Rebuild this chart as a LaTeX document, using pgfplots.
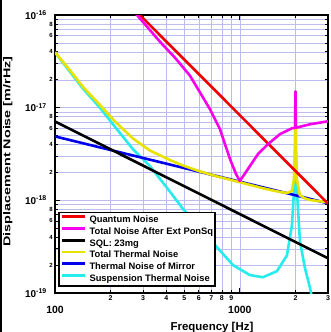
\documentclass[border=0pt]{standalone}
\usepackage{fontspec}
\setmainfont{Liberation Sans}
\usepackage{pgfplots}
\pgfplotsset{compat=1.18}
\definecolor{gridc}{RGB}{188,188,240}
\definecolor{cRed}{RGB}{240,0,0}
\definecolor{cMag}{RGB}{245,0,235}
\definecolor{cYel}{RGB}{232,226,0}
\definecolor{cBlu}{RGB}{0,0,235}
\definecolor{cCya}{RGB}{40,235,235}
\begin{document}
\begin{tikzpicture}
\useasboundingbox (-55bp,-39bp) rectangle (276bp,293bp);
\fill[black] (-55bp,-39bp) rectangle (-53bp,293bp);
\begin{axis}[
  at={(0,0)}, anchor=south west,
  scale only axis, width=273bp, height=278bp,
  xmode=log, ymode=log,
  xmin=100, xmax=3000, ymin=1e-19, ymax=1e-16,
  axis line style={line width=1.5bp},
  tick style={black, line width=0.8bp},
  major tick length=5bp, minor tick length=3bp,
  xtick={100,1000}, xticklabels={100,1000},
  minor xtick={200,300,400,500,600,700,800,900,2000,3000},
  ytick={1e-19,1e-18,1e-17,1e-16},
  yticklabels={10\textsuperscript{-19},10\textsuperscript{-18},10\textsuperscript{-17},10\textsuperscript{-16}},
  minor ytick={2e-19,3e-19,4e-19,5e-19,6e-19,7e-19,8e-19,9e-19,2e-18,3e-18,4e-18,5e-18,6e-18,7e-18,8e-18,9e-18,2e-17,3e-17,4e-17,5e-17,6e-17,7e-17,8e-17,9e-17},
  xticklabel style={font=\bfseries\fontsize{10.5}{12}\selectfont, inner sep=0pt, yshift=-13bp},
  yticklabel style={font=\bfseries\fontsize{10}{12}\selectfont, inner sep=0pt, xshift=-8bp},
  extra x ticks={200,300,400,500,600,700,800,900,2000,3000},
  extra x tick labels={2,3,4,5,6,7,8,9,2,3},
  extra x tick style={grid=none, major tick length=3bp,
     xticklabel style={font=\bfseries\fontsize{7}{8}\selectfont, yshift=11bp}},
  extra y ticks={2e-19,4e-19,6e-19,8e-19,2e-18,4e-18,6e-18,8e-18,2e-17,4e-17,6e-17,8e-17},
  extra y tick labels={2,4,6,8,2,4,6,8,2,4,6,8},
  extra y tick style={grid=none, major tick length=3bp,
     yticklabel style={font=\bfseries\fontsize{6}{7}\selectfont, xshift=6bp}},
  grid=both,
  major grid style={gridc, line width=0.5bp},
  minor grid style={gridc, line width=0.5bp},
  legend cell align=left,
  legend style={at={(rel axis cs:0.011,0.022)}, anchor=south west,
     draw=black, line width=1.6bp, fill=white, inner sep=1.5bp,
     row sep=0bp, column sep=2.8bp,
     font=\bfseries\fontsize{9.4}{11}\selectfont,
     nodes={inner sep=0.6bp, text height=8bp, text depth=2.6bp}},
  legend image code/.code={\draw[#1, line width=2.8bp] (0bp,3.2bp) -- (23bp,3.2bp);},
  every axis plot/.append style={line width=2.6bp, line join=round},
]
\addlegendimage{cRed}\addlegendentry{Quantum Noise}
\addlegendimage{cMag}\addlegendentry{Total Noise After Ext PonSq}
\addlegendimage{black}\addlegendentry{SQL: 23mg}
\addlegendimage{cYel}\addlegendentry{Total Thermal Noise}
\addlegendimage{cBlu}\addlegendentry{Thermal Noise of Mirror}
\addlegendimage{cCya}\addlegendentry{Suspension Thermal Noise}
% Suspension thermal noise
\addplot[cCya, forget plot] coordinates {
(100,3.95e-17)(142,1.6e-17)(175,1.0e-17)(210,6.3e-18)(264,3.57e-18)(326,2.35e-18)
(419,1.24e-18)(492,8.1e-19)(600,5.2e-19)(762,3.03e-19)(919,2.0e-19)(1135,1.56e-19)
(1334,1.48e-19)(1588,1.72e-19)(1799,2.55e-19)(1915,5.4e-19)(1963,1.24e-18)(1990,3.5e-18)
(2000,1.5e-17)(2010,3.5e-18)(2038,1.24e-18)(2115,3.6e-19)(2252,1.85e-19)(2399,1.13e-19)(2600,5e-20)};
% Thermal noise of mirror
\addplot[cBlu, forget plot] coordinates {(100,4.9e-18)(3000,9.3e-19)};
% Total thermal noise
\addplot[cYel, forget plot] coordinates {
(100,3.97e-17)(120,2.56e-17)(142,1.67e-17)(175,1.07e-17)(210,7.18e-18)(264,4.65e-18)
(326,3.45e-18)(419,2.72e-18)(492,2.38e-18)(600,2.07e-18)(762,1.80e-18)(1000,1.57e-18)
(1334,1.35e-18)(1588,1.25e-18)(1799,1.20e-18)(1915,1.26e-18)(1963,1.7e-18)(1990,4e-18)
(2000,1.5e-17)(2010,4e-18)(2038,1.66e-18)(2115,1.13e-18)(2252,1.05e-18)(2400,1.01e-18)(3000,9.5e-19)};
% SQL
\addplot[black, forget plot] coordinates {(100,7.1e-18)(3000,2.37e-19)};
% Quantum noise
\addplot[cRed, forget plot] coordinates {(250,1.327e-16)(3000,9.22e-19)};
% Total noise after ext ponderomotive squeezing
\addplot[cMag, forget plot] coordinates {
(260,1.12e-16)(277.7,1e-16)(370,5.14e-17)(446,3.46e-17)(537,2.22e-17)(609,1.46e-17)
(690,9.6e-18)(781,5.85e-18)(885,2.79e-18)(953,1.93e-18)(1000,1.62e-18)(1053,1.88e-18)
(1135,2.35e-18)(1254,3.16e-18)(1420,4.04e-18)(1649,5.18e-18)(1915,6.0e-18)(1990,6.05e-18)
(2000,1.5e-17)(2010,6.1e-18)(2064,6.15e-18)(2397,6.62e-18)(3000,7.13e-18)};
\end{axis}
\node[anchor=north, inner sep=0pt, font=\bfseries\fontsize{11.5}{13}\selectfont] at (157bp,-29bp) {Frequency [Hz]};
\node[rotate=90, anchor=base, inner sep=0pt, font=\bfseries\fontsize{10}{12}\selectfont] at (-44.5bp,141.5bp) {\scalebox{1.44}[1]{Displacement Noise [m/rHz]}};
\end{tikzpicture}
\end{document}
